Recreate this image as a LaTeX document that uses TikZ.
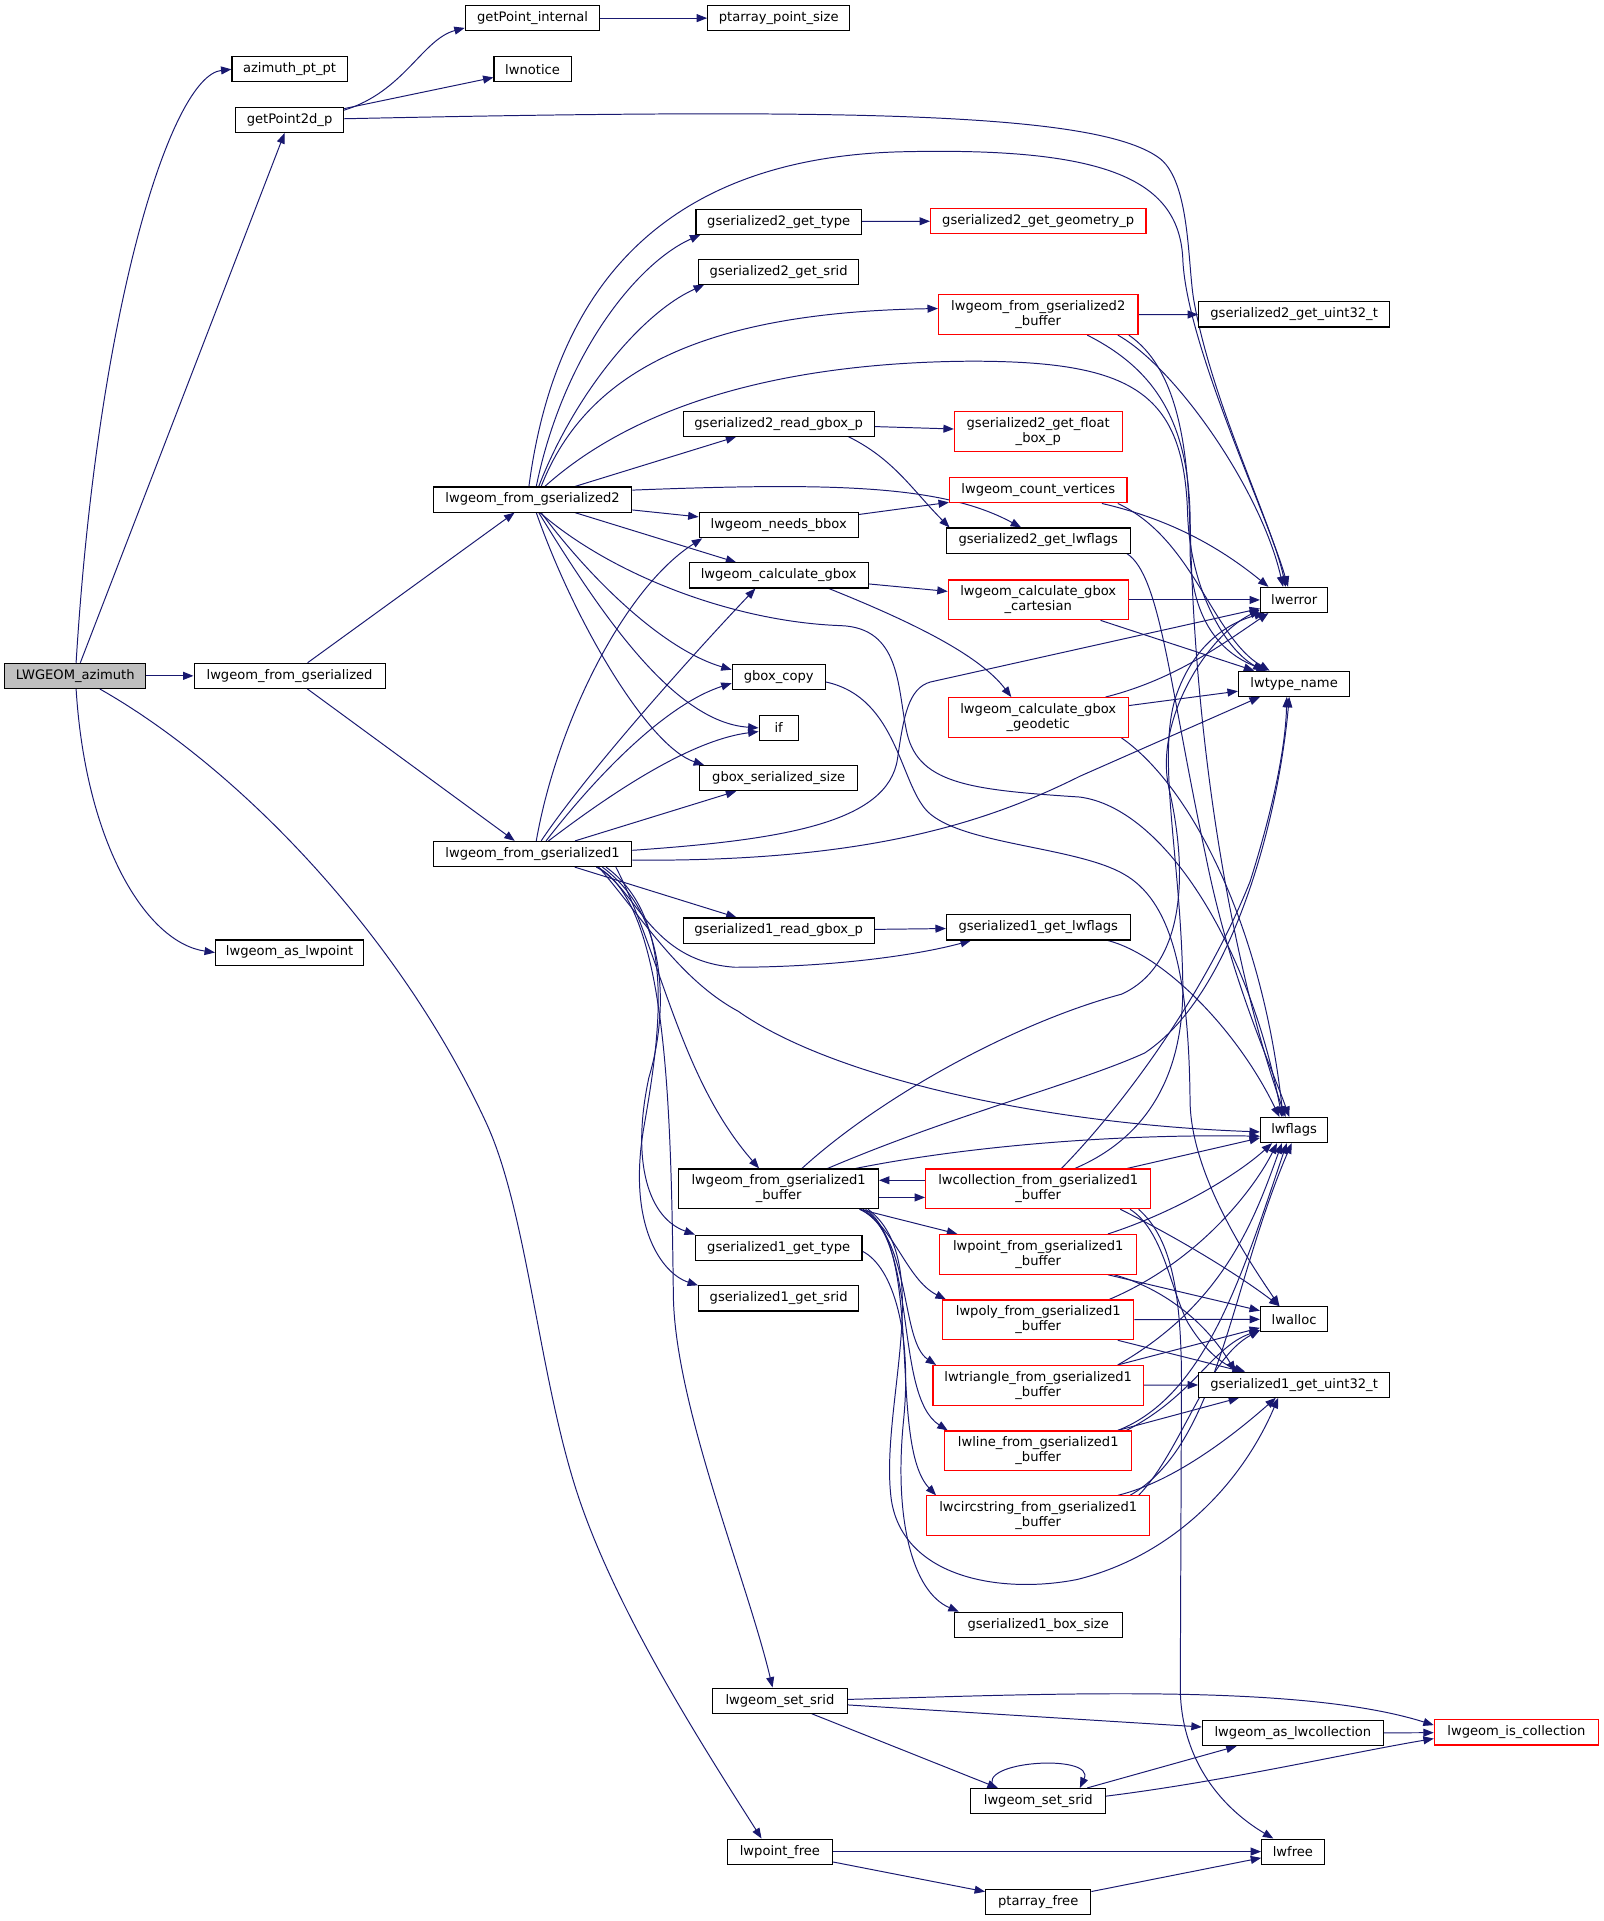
\documentclass[tikz,border=0pt]{standalone}
\usepackage{fontspec}
\setmainfont{DejaVu Sans}
\usetikzlibrary{arrows.meta}
\definecolor{edgeblue}{HTML}{191970}
\definecolor{rootgray}{HTML}{BFBFBF}
\pgfdeclarelayer{bg}
\pgfsetlayers{bg,main}
\begin{document}
\begin{tikzpicture}[x=1pt,y=-1pt,
 nb/.style={draw=black,line width=0.9pt,inner sep=0pt,minimum height=20.5pt,font=\fontsize{10.7}{12.3}\selectfont,align=center,fill=white},
 nb2/.style={nb,minimum height=32.5pt},
 nbr/.style={nb,draw=red},
 nbr2/.style={nb2,draw=red},
 e/.style={draw=edgeblue,line width=0.8pt,-{Triangle[length=8.5pt,width=6.5pt]}}]
\useasboundingbox (0,0) rectangle (1310,1569);
% column 0
\node[nb,fill=rootgray,minimum width=115] (root) at (61.5,552) {LWGEOM\_azimuth};
% column 1
\node[nb,minimum width=94] (azpt) at (236.5,56.6) {azimuth\_pt\_pt};
\node[nb,minimum width=88] (gp2d) at (236.5,98) {getPoint2d\_p};
\node[nb,minimum width=156] (lfg) at (236.5,552) {lwgeom\_from\_gserialized};
\node[nb,minimum width=121] (asp) at (236.5,778) {lwgeom\_as\_lwpoint};
% column 2
\node[nb,minimum width=110] (gpi) at (435,14.8) {getPoint\_internal};
\node[nb,minimum width=63] (lwn) at (435,56.6) {lwnotice};
\node[nb,minimum width=162] (lfg2) at (435,408) {lwgeom\_from\_gserialized2};
\node[nb,minimum width=162] (lfg1) at (435,697.5) {lwgeom\_from\_gserialized1};
% column 3
\node[nb,minimum width=116] (pps) at (636,14.8) {ptarray\_point\_size};
\node[nb,minimum width=135] (g2type) at (636,181) {gserialized2\_get\_type};
\node[nb,minimum width=131] (g2srid) at (636,222) {gserialized2\_get\_srid};
\node[nb,minimum width=156] (g2rgb) at (636,346) {gserialized2\_read\_gbox\_p};
\node[nb,minimum width=130] (nbb) at (636,429) {lwgeom\_needs\_bbox};
\node[nb,minimum width=146] (cgb) at (636,470) {lwgeom\_calculate\_gbox};
\node[nb,minimum width=76] (gbc) at (636,553) {gbox\_copy};
\node[nb,minimum width=32] (iff) at (636,594.5) {if};
\node[nb,minimum width=129] (gss) at (636,635.5) {gbox\_serialized\_size};
\node[nb,minimum width=156] (g1rgb) at (636,760) {gserialized1\_read\_gbox\_p};
\node[nb2,minimum width=163] (lfg1b) at (636,971) {lwgeom\_from\_gserialized1\\\_buffer};
\node[nb,minimum width=136] (g1type) at (636,1019) {gserialized1\_get\_type};
\node[nb,minimum width=131] (g1srid) at (636,1060.5) {gserialized1\_get\_srid};
\node[nb,minimum width=110] (srid1) at (637,1389) {lwgeom\_set\_srid};
\node[nb,minimum width=86] (lpf) at (637,1512.3) {lwpoint\_free};
% column 4
\node[nbr,minimum width=176] (g2geom) at (848,180.5) {gserialized2\_get\_geometry\_p};
\node[nbr2,minimum width=163] (lfg2b) at (848,257) {lwgeom\_from\_gserialized2\\\_buffer};
\node[nbr2,minimum width=137] (g2fb) at (848,352.5) {gserialized2\_get\_float\\\_box\_p};
\node[nbr,minimum width=145] (lcv) at (848,400.5) {lwgeom\_count\_vertices};
\node[nb,minimum width=150] (g2flags) at (848,441.5) {gserialized2\_get\_lwflags};
\node[nbr2,minimum width=147] (cgbc) at (848,490) {lwgeom\_calculate\_gbox\\\_cartesian};
\node[nbr2,minimum width=147] (cgbg) at (848,586) {lwgeom\_calculate\_gbox\\\_geodetic};
\node[nb,minimum width=150] (g1flags) at (848,757.5) {gserialized1\_get\_lwflags};
\node[nbr2,minimum width=184] (lcol) at (848,971) {lwcollection\_from\_gserialized1\\\_buffer};
\node[nbr2,minimum width=161] (lpt) at (848,1024.5) {lwpoint\_from\_gserialized1\\\_buffer};
\node[nbr2,minimum width=156] (lpoly) at (848,1078) {lwpoly\_from\_gserialized1\\\_buffer};
\node[nbr2,minimum width=172] (ltri) at (848,1131.5) {lwtriangle\_from\_gserialized1\\\_buffer};
\node[nbr2,minimum width=153] (lline) at (848,1185) {lwline\_from\_gserialized1\\\_buffer};
\node[nbr2,minimum width=182] (lcirc) at (848,1238) {lwcircstring\_from\_gserialized1\\\_buffer};
\node[nb,minimum width=137] (g1bs) at (848,1327) {gserialized1\_box\_size};
\node[nb,minimum width=110] (srid2) at (848,1471) {lwgeom\_set\_srid};
\node[nb,minimum width=86] (ptf) at (848,1553.5) {ptarray\_free};
% column 5
\node[nb,minimum width=156] (g2u32) at (1057,256.8) {gserialized2\_get\_uint32\_t};
\node[nb,minimum width=55] (lwerr) at (1057,490) {lwerror};
\node[nb,minimum width=91] (ltn) at (1057,558.5) {lwtype\_name};
\node[nb,minimum width=55] (lwfl) at (1057,923) {lwflags};
\node[nb,minimum width=55] (lwal) at (1057,1077.5) {lwalloc};
\node[nb,minimum width=156] (g1u32) at (1057,1131) {gserialized1\_get\_uint32\_t};
\node[nb,minimum width=148] (aslc) at (1056,1415.5) {lwgeom\_as\_lwcollection};
\node[nb,minimum width=51] (lwfr) at (1056,1512.3) {lwfree};
% column 6
\node[nbr,minimum width=134] (isc) at (1238.5,1415) {lwgeom\_is\_collection};

\begin{pgfonlayer}{bg}
\fill[white] (0,0) rectangle (1310,1569);
% LWGEOM_azimuth
\draw[e] (root) .. controls (80,250) and (140,62) .. (azpt.west);
\draw[e] (root) -- (gp2d);
\draw[e] (root) -- (lfg);
\draw[e] (root) .. controls (70,690) and (120,770) .. (asp.west);
\draw[e] ([xshift=20]root.south) .. controls (200,630) and (330,770) .. (398,919) .. controls (430,990) and (440,1120) .. (470,1215) .. controls (500,1310) and (570,1420) .. ([xshift=-15]lpf.north);
% getPoint2d_p
\draw[e] ([yshift=8]gp2d.east) .. controls (330,75) and (345,32) .. ([yshift=-8]gpi.west);
\draw[e] (gp2d) -- (lwn);
\draw[e] ([yshift=1]gp2d.east) .. controls (700,88) and (900,92) .. (948,130) .. controls (972,150) and (970,215) .. (975,245) .. controls (990,330) and (1040,430) .. ([xshift=-7]lwerr.north);
\draw[e] (gpi) -- (pps);
% lwgeom_from_gserialized
\draw[e] (lfg) -- (lfg2);
\draw[e] (lfg) -- (lfg1);
% lwgeom_from_gserialized2
\draw[e] ([xshift=-3]lfg2.north) .. controls (450,260) and (520,130) .. (735,124) .. controls (900,120) and (962,145) .. (966,210) .. controls (968,280) and (1035,420) .. ([xshift=-5]lwerr.north);
\draw[e] ([xshift=3]lfg2.north) .. controls (460,290) and (520,215) .. ([xshift=4]g2type.south west);
\draw[e] ([xshift=5]lfg2.north) .. controls (470,320) and (525,255) .. ([xshift=5]g2srid.south west);
\draw[e] ([xshift=7]lfg2.north) .. controls (480,300) and (580,255) .. ([yshift=5]lfg2b.west);
\draw[e] ([xshift=10]lfg2.north) .. controls (520,330) and (640,296) .. (793,295) .. controls (925,295) and (967,320) .. (970,420) .. controls (972,480) and (1000,530) .. ([xshift=-25]ltn.north);
\draw[e] (lfg2) -- (g2rgb);
\draw[e] ([yshift=-3]lfg2.north east) .. controls (680,394) and (770,396) .. ([xshift=-14]g2flags.north);
\draw[e] (lfg2) -- (nbb);
\draw[e] (lfg2) -- (cgb);
\draw[e] ([xshift=7]lfg2.south) .. controls (480,470) and (540,530) .. ([yshift=6]gbc.west);
\draw[e] ([xshift=5]lfg2.south) .. controls (490,500) and (550,590) .. (iff.west);
\draw[e] ([xshift=3]lfg2.south) .. controls (470,510) and (530,610) .. ([xshift=4]gss.north west);
\draw[e] ([xshift=6]lfg2.south) .. controls (500,470) and (600,508) .. (687,511) .. controls (735,513) and (733,560) .. (740,595) .. controls (748,640) and (790,645) .. (882,651) .. controls (950,660) and (1020,770) .. ([xshift=-10]lwfl.north);
% level 3/4 of gserialized2 branch
\draw[e] (g2type) -- (g2geom);
\draw[e] (lfg2b) -- (g2u32);
\draw[e] ([xshift=65]lfg2b.south) .. controls (960,300) and (1030,400) .. ([xshift=-9]lwerr.north);
\draw[e] ([xshift=74]lfg2b.south) .. controls (960,300) and (972,360) .. (972,450) .. controls (973,510) and (1000,535) .. ([xshift=-22]ltn.north);
\draw[e] ([xshift=40]lfg2b.south) .. controls (940,300) and (970,340) .. (972,420) .. controls (975,620) and (1010,800) .. ([xshift=-7]lwfl.north);
\draw[e] (g2rgb) -- (g2fb);
\draw[e] ([xshift=57]g2rgb.south) .. controls (730,375) and (745,400) .. ([xshift=3]g2flags.north west);
\draw[e] (nbb) -- (lcv);
\draw[e] ([xshift=-21]lcv.south east) .. controls (960,425) and (1000,450) .. ([xshift=7]lwerr.north west);
\draw[e] ([xshift=-8]lcv.south east) .. controls (975,440) and (990,520) .. ([xshift=-20]ltn.north);
\draw[e] ([xshift=-3]g2flags.south east) .. controls (948,470) and (955,560) .. (985,700) .. controls (1005,800) and (1038,870) .. ([xshift=-4]lwfl.north);
\draw[e] (cgb) -- (cgbc);
\draw[e] ([xshift=41]cgb.south) .. controls (745,508) and (800,535) .. ([xshift=-22]cgbg.north);
\draw[e] (cgbc) -- (lwerr);
\draw[e] (cgbc) -- (ltn);
\draw[e] ([xshift=55]cgbg.north) .. controls (960,555) and (1000,525) .. ([xshift=7]lwerr.south west);
\draw[e] (cgbg) -- (ltn);
\draw[e] ([xshift=68]cgbg.south) .. controls (970,640) and (1030,750) .. ([xshift=-9]lwfl.north);
\draw[e] ([yshift=-4]gbc.east) .. controls (735,570) and (735,645) .. (760,665) .. controls (790,690) and (880,692) .. (918,714) .. controls (955,735) and (971,790) .. (972,900) .. controls (973,960) and (1020,1030) .. ([xshift=-12]lwal.north);
% lwgeom_from_gserialized1
\draw[e] ([xshift=3]lfg1.north) .. controls (455,590) and (510,480) .. ([xshift=3]nbb.south west);
\draw[e] ([xshift=7]lfg1.north) .. controls (480,630) and (570,530) .. ([xshift=-19]cgb.south);
\draw[e] ([xshift=11]lfg1.north) .. controls (490,630) and (545,575) .. ([yshift=-5]gbc.west);
\draw[e] ([xshift=13]lfg1.north) .. controls (490,655) and (560,605) .. ([yshift=-3]iff.west);
\draw[e] (lfg1) -- (gss);
\draw[e] ([yshift=3]lfg1.east) .. controls (640,686) and (725,672) .. (733,620) .. controls (738,585) and (742,562) .. (760,557) -- ([yshift=-7]lwerr.west);
\draw[e] ([yshift=-5]lfg1.east) .. controls (700,704) and (800,675) .. (882,634) -- ([xshift=-28]ltn.south);
\draw[e] (lfg1) -- (g1rgb);
\draw[e] ([xshift=52]lfg1.south) .. controls (520,725) and (530,785) .. (600,790) .. controls (680,790) and (750,780) .. ([xshift=-55]g1flags.south);
\draw[e] ([xshift=54]lfg1.south) .. controls (525,750) and (555,800) .. (603,826) .. controls (680,880) and (850,918) .. ([yshift=-1.5]lwfl.west);
\draw[e] ([xshift=68]lfg1.south) .. controls (540,780) and (555,880) .. ([xshift=-16]lfg1b.north);
\draw[e] ([xshift=57]lfg1.south) .. controls (548,750) and (545,830) .. (530,880) .. controls (515,950) and (530,995) .. (g1type.north west);
\draw[e] ([xshift=60]lfg1.south) .. controls (552,750) and (540,840) .. (526,920) .. controls (512,1000) and (540,1040) .. (g1srid.north west);
\draw[e] ([xshift=53]lfg1.south) .. controls (545,740) and (548,900) .. (550,1060) .. controls (552,1150) and (610,1290) .. ([xshift=-6]srid1.north);
\draw[e] (g1rgb) -- (g1flags);
\draw[e] ([xshift=57]g1flags.south) .. controls (950,780) and (1010,840) .. ([xshift=-12]lwfl.north);
% lwgeom_from_gserialized1_buffer
\draw[e] ([xshift=19]lfg1b.north) .. controls (720,895) and (830,835) .. (916,812) .. controls (965,790) and (972,720) .. (955,645) .. controls (942,590) and (985,520) .. ([yshift=-8]lwerr.west);
\draw[e] ([xshift=40]lfg1b.north) .. controls (780,910) and (880,885) .. (935,860) .. controls (1010,810) and (1045,660) .. ([xshift=-4]ltn.south);
\draw[e] ([xshift=63]lfg1b.north) .. controls (780,938) and (900,926) .. ([yshift=-5]lwfl.west);
\draw[e] ([yshift=-7]lfg1b.east) -- ([yshift=-7]lcol.west);
\draw[e] ([yshift=7]lcol.west) -- ([yshift=7]lfg1b.east);
\draw[e] (lfg1b) -- (lpt);
\draw[e] ([xshift=66]lfg1b.south) .. controls (730,1000) and (740,1045) .. ([xshift=3]lpoly.north west);
\draw[e] ([xshift=67]lfg1b.south) .. controls (745,1010) and (735,1095) .. ([xshift=3]ltri.north west);
\draw[e] ([xshift=69]lfg1b.south) .. controls (750,1015) and (730,1140) .. ([xshift=3]lline.north west);
\draw[e] ([xshift=71]lfg1b.south) .. controls (755,1020) and (725,1180) .. ([xshift=8]lcirc.north west);
\draw[e] ([xshift=73]lfg1b.south) .. controls (765,1030) and (718,1150) .. (728,1225) .. controls (738,1290) and (820,1302) .. (880,1290) .. controls (960,1270) and (1015,1210) .. ([xshift=-13]g1u32.south);
\draw[e] ([yshift=-3]g1type.east) .. controls (730,1035) and (745,1090) .. (738,1160) .. controls (730,1240) and (745,1300) .. ([xshift=4]g1bs.north west);
% lwcollection_from_gserialized1_buffer
\draw[e] ([xshift=19]lcol.north) .. controls (920,900) and (985,810) .. (1021,720) .. controls (1040,660) and (1050,610) .. ([xshift=-6]ltn.south);
\draw[e] ([xshift=30]lcol.north) .. controls (935,930) and (968,880) .. (966,800) .. controls (964,700) and (945,620) .. (960,570) .. controls (975,525) and (1005,508) .. ([xshift=4]lwerr.south west);
\draw[e] (lcol) -- (lwfl);
\draw[e] ([xshift=67]lcol.south) .. controls (960,1010) and (1010,1040) .. ([xshift=-12]lwal.north);
\draw[e] ([xshift=75]lcol.south) .. controls (950,1005) and (955,1050) .. (970,1080) .. controls (985,1105) and (1000,1115) .. ([xshift=-40]g1u32.north);
\draw[e] ([xshift=82]lcol.south) .. controls (955,1010) and (965,1050) .. (965,1130) -- (964,1380) .. controls (965,1440) and (1000,1478) .. ([xshift=-16]lwfr.north);
% lwpoint
\draw[e] ([xshift=57]lpt.north) .. controls (960,990) and (1010,960) .. ([xshift=-18]lwfl.south);
\draw[e] ([xshift=57]lpt.south) -- ([yshift=7]lwal.west);
\draw[e] ([xshift=62]lpt.south) .. controls (950,1052) and (985,1080) .. ([xshift=-48]g1u32.north);
% lwpoly
\draw[e] ([xshift=58]lpoly.north) .. controls (980,1030) and (1025,970) .. ([xshift=-14]lwfl.south);
\draw[e] (lpoly) -- (lwal);
\draw[e] ([xshift=65]lpoly.south) -- ([xshift=-42]g1u32.north);
% lwtriangle
\draw[e] ([xshift=65]ltri.north) .. controls (1000,1065) and (1025,995) .. ([xshift=-10]lwfl.south);
\draw[e] ([xshift=65]ltri.north) -- ([yshift=-7]lwal.west);
\draw[e] (ltri) -- (g1u32);
% lwline
\draw[e] ([xshift=65]lline.north) .. controls (985,1140) and (1015,1040) .. ([xshift=-6]lwfl.south);
\draw[e] ([xshift=72]lline.north) .. controls (975,1140) and (990,1100) .. ([yshift=-9]lwal.west);
\draw[e] ([xshift=65]lline.north) -- ([xshift=-45]g1u32.south);
% lwcircstring
\draw[e] ([xshift=75]lcirc.north) .. controls (995,1180) and (1005,1050) .. ([xshift=-2]lwfl.south);
\draw[e] ([xshift=82]lcirc.north) .. controls (965,1185) and (985,1110) .. ([yshift=-9]lwal.west);
\draw[e] ([xshift=65]lcirc.north) .. controls (960,1210) and (1010,1170) .. ([xshift=-15]g1u32.south);
% lwgeom_set_srid
\draw[e] ([yshift=1]srid1.east) .. controls (850,1384) and (1060,1374) .. ([yshift=6]isc.west);
\draw[e] ([yshift=-3.5]srid1.east) -- ([yshift=5]aslc.west);
\draw[e] ([xshift=26]srid1.south) -- ([xshift=-33]srid2.north);
\draw[e] ([xshift=-36]srid2.north) .. controls (795,1438) and (895,1432) .. ([xshift=34]srid2.north);
\draw[e] ([xshift=40]srid2.north) -- ([xshift=-46]aslc.south);
\draw[e] ([yshift=4]srid2.east) .. controls (1000,1455) and (1100,1432) .. ([yshift=-5]isc.west);
\draw[e] (aslc) -- (isc);
% lwpoint_free
\draw[e] (lpf) -- (lwfr);
\draw[e] (lpf) -- (ptf);
\draw[e] (ptf) -- (lwfr);
\end{pgfonlayer}
\end{tikzpicture}
\end{document}
